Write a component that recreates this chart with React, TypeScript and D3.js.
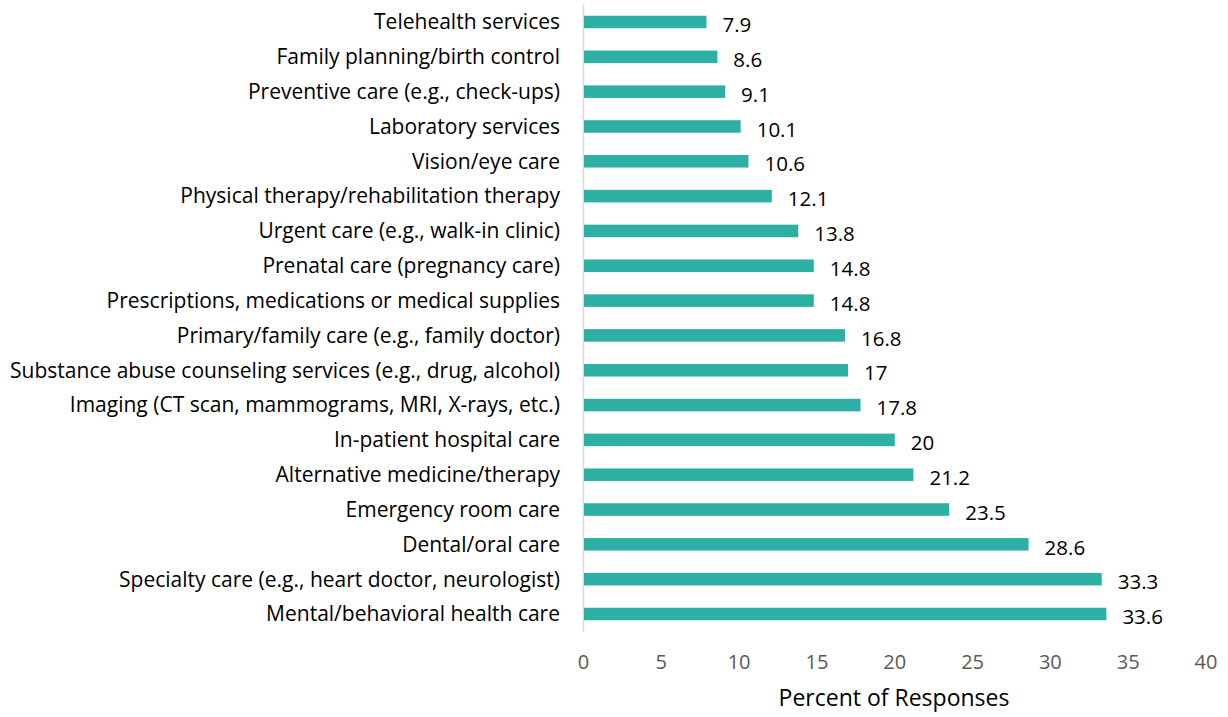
import { useEffect, useRef } from 'react';
import * as d3 from 'd3';

const categories = [
  'Telehealth services',
  'Family planning/birth control',
  'Preventive care (e.g., check-ups)',
  'Laboratory services',
  'Vision/eye care',
  'Physical therapy/rehabilitation therapy',
  'Urgent care (e.g., walk-in clinic)',
  'Prenatal care (pregnancy care)',
  'Prescriptions, medications or medical supplies',
  'Primary/family care (e.g., family doctor)',
  'Substance abuse counseling services (e.g., drug, alcohol)',
  'Imaging (CT scan, mammograms, MRI, X-rays, etc.)',
  'In-patient hospital care',
  'Alternative medicine/therapy ',
  'Emergency room care',
  'Dental/oral care',
  'Specialty care (e.g., heart doctor, neurologist)',
  'Mental/behavioral health care',
];

const values = [7.9, 8.6, 9.1, 10.1, 10.6, 12.1, 13.8, 14.8, 14.8, 16.8, 17, 17.8, 20, 21.2, 23.5, 28.6, 33.3, 33.6];

const xTicks = [0, 5, 10, 15, 20, 25, 30, 35, 40];

const App = () => {
  const svgRef = useRef<SVGSVGElement>(null);

  useEffect(() => {
    if (!svgRef.current) return;
    d3.select(svgRef.current).selectAll('*').remove();

    const width = 1228;
    const height = 717;
    const font = '"Open Sans", "Noto Sans", sans-serif';

    const svg = d3.select(svgRef.current)
      .attr('width', width)
      .attr('height', height)
      .style('font-family', font);

    const x = d3.scaleLinear().domain([0, 40]).range([583.5, 1206]);
    const y = d3.scaleBand()
      .domain(categories)
      .range([4.6, 631.4])
      .paddingInner(0.64)
      .paddingOuter(0.32);

    // vertical axis line
    svg.append('line')
      .attr('x1', x(0)).attr('x2', x(0))
      .attr('y1', 4.6).attr('y2', 631.4)
      .attr('stroke', '#d9d9d9')
      .attr('stroke-width', 1.5);

    const rows = categories.map((c, i) => ({ c, v: values[i] }));

    svg.selectAll('.bar')
      .data(rows)
      .enter()
      .append('rect')
      .attr('x', x(0) + 0.5)
      .attr('y', d => y(d.c) || 0)
      .attr('width', d => x(d.v) - x(0) - 0.5)
      .attr('height', y.bandwidth())
      .attr('fill', '#2eafa4');

    // category labels
    svg.selectAll('.cat')
      .data(rows)
      .enter()
      .append('text')
      .attr('x', 560)
      .attr('y', d => (y(d.c) || 0) + y.bandwidth() / 2)
      .attr('dy', '0.35em')
      .attr('text-anchor', 'end')
      .attr('font-size', 21)
      .attr('fill', '#000')
      .text(d => d.c);

    // value labels
    svg.selectAll('.val')
      .data(rows)
      .enter()
      .append('text')
      .attr('x', d => x(d.v) + 16)
      .attr('y', d => (y(d.c) || 0) + y.bandwidth() / 2 + 3)
      .attr('dy', '0.35em')
      .attr('font-size', 20.5)
      .attr('fill', '#000')
      .text(d => String(d.v));

    // x tick labels
    svg.selectAll('.tick')
      .data(xTicks)
      .enter()
      .append('text')
      .attr('x', d => x(d))
      .attr('y', 662)
      .attr('dy', '0.35em')
      .attr('text-anchor', 'middle')
      .attr('font-size', 20)
      .attr('fill', '#595959')
      .text(d => String(d));

    svg.append('text')
      .attr('x', 894)
      .attr('y', 698)
      .attr('dy', '0.35em')
      .attr('text-anchor', 'middle')
      .attr('font-size', 23)
      .attr('fill', '#000')
      .text('Percent of Responses');
  }, []);

  return <svg ref={svgRef} style={{ position: 'absolute', left: 0, top: 0 }} />;
};

export default App;
